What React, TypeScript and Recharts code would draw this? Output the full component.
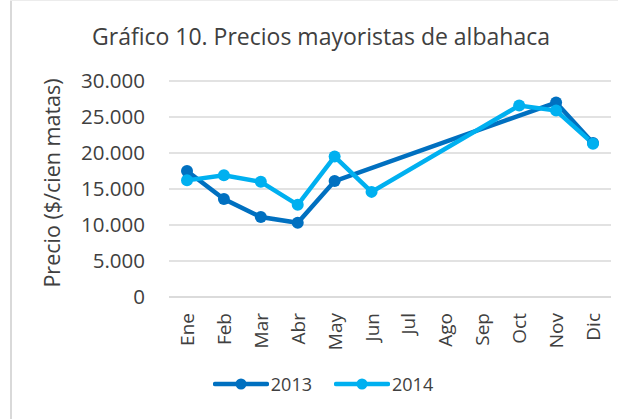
import React from "react";
import { CartesianGrid, Legend, Line, LineChart, XAxis, YAxis } from "recharts";

// Months and wholesale prices ($ per hundred plants)
const months = ["Ene", "Feb", "Mar", "Abr", "May", "Jun", "Jul", "Ago", "Sep", "Oct", "Nov", "Dic"];
const prices2013 = [17500, 13600, 11100, 10300, 16100, null, null, null, null, null, 27000, 21400];
const prices2014 = [16200, 16900, 16000, 12800, 19500, 14600, null, null, null, 26600, 25900, 21300];
const yTicks = [0, 5000, 10000, 15000, 20000, 25000, 30000];

const COLOR_2013 = "#0070C0";
const COLOR_2014 = "#00B0F0";
const TEXT = "#404040";
const FONT = "'Open Sans', sans-serif";

const data = months.map((month, i) => ({
  month,
  y2013: prices2013[i],
  y2014: prices2014[i],
}));

const fmt = (v: number) => String(v).replace(/\B(?=(\d{3})+(?!\d))/g, ".");

const MonthTick = (props: any) => {
  const { x, y, payload } = props;
  return (
    <text
      x={x}
      y={y}
      transform={`rotate(-90, ${x}, ${y})`}
      textAnchor="end"
      dominantBaseline="central"
      fill={TEXT}
      fontSize={19}
      fontFamily={FONT}
    >
      {payload.value}
    </text>
  );
};

const YLabel = () => (
  <text
    x={51}
    y={183}
    transform="rotate(-90, 51, 183)"
    textAnchor="middle"
    dominantBaseline="central"
    fill={TEXT}
    fontSize={21.5}
    fontFamily={FONT}
  >
    Precio ($/cien matas)
  </text>
);

const LegendContent = () => {
  const items = [
    { name: "2013", color: COLOR_2013 },
    { name: "2014", color: COLOR_2014 },
  ];
  return (
    <div style={{ display: "flex", justifyContent: "center", gap: 22, marginLeft: 28 }}>
      {items.map((it) => (
        <div key={it.name} style={{ display: "flex", alignItems: "center" }}>
          <svg width={56} height={14}>
            <line x1={2} y1={7} x2={54} y2={7} stroke={it.color} strokeWidth={4.5} strokeLinecap="round" />
            <circle cx={28} cy={7} r={5.5} fill={it.color} />
          </svg>
          <span style={{ fontFamily: FONT, fontSize: 18, color: TEXT, marginLeft: 2 }}>{it.name}</span>
        </div>
      ))}
    </div>
  );
};

export default function App() {
  return (
    <div
      style={{
        position: "absolute",
        left: 0,
        top: 0,
        width: 618,
        height: 419,
        background: "#fff",
        overflow: "hidden",
      }}
    >
      <div style={{ position: "absolute", left: 10, top: 0, width: 2, height: 419, background: "#d9d9d9" }} />
      <div style={{ position: "absolute", left: 10, top: 0, width: 608, height: 1, background: "#ececec" }} />
      <div
        style={{
          position: "absolute",
          left: 0,
          top: 20,
          width: 642,
          textAlign: "center",
          fontFamily: FONT,
          fontSize: 23,
          color: TEXT,
        }}
      >
        Gráfico 10. Precios mayoristas de albahaca
      </div>
      <div style={{ position: "absolute", left: 0, top: 0 }}>
        <LineChart
          width={618}
          height={419}
          data={data}
          margin={{ top: 81, right: 7, bottom: 0, left: 0 }}
        >
          <CartesianGrid vertical={false} stroke="#d9d9d9" strokeWidth={1.5} />
          <XAxis
            dataKey="month"
            interval={0}
            height={122}
            padding={{ left: 18, right: 18 }}
            axisLine={{ stroke: "#d9d9d9", strokeWidth: 1.5 }}
            tickLine={false}
            tickMargin={10}
            tick={<MonthTick />}
          />
          <YAxis
            width={169}
            domain={[0, 30000]}
            ticks={yTicks}
            axisLine={false}
            tickLine={false}
            tickMargin={18}
            tickFormatter={fmt}
            tick={{ fill: TEXT, fontSize: 20.5, fontFamily: FONT }}
            label={<YLabel />}
          />
          <Legend
            layout="horizontal"
            verticalAlign="middle"
            align="center"
            wrapperStyle={{ top: 372, left: 0, width: 618 }}
            content={<LegendContent />}
          />
          <Line
            type="linear"
            dataKey="y2013"
            name="2013"
            stroke={COLOR_2013}
            strokeWidth={4.5}
            dot={{ r: 6, fill: COLOR_2013, stroke: COLOR_2013, strokeWidth: 0 }}
            activeDot={false}
            connectNulls
            isAnimationActive={false}
          />
          <Line
            type="linear"
            dataKey="y2014"
            name="2014"
            stroke={COLOR_2014}
            strokeWidth={4.5}
            dot={{ r: 6, fill: COLOR_2014, stroke: COLOR_2014, strokeWidth: 0 }}
            activeDot={false}
            connectNulls
            isAnimationActive={false}
          />
        </LineChart>
      </div>
    </div>
  );
}
